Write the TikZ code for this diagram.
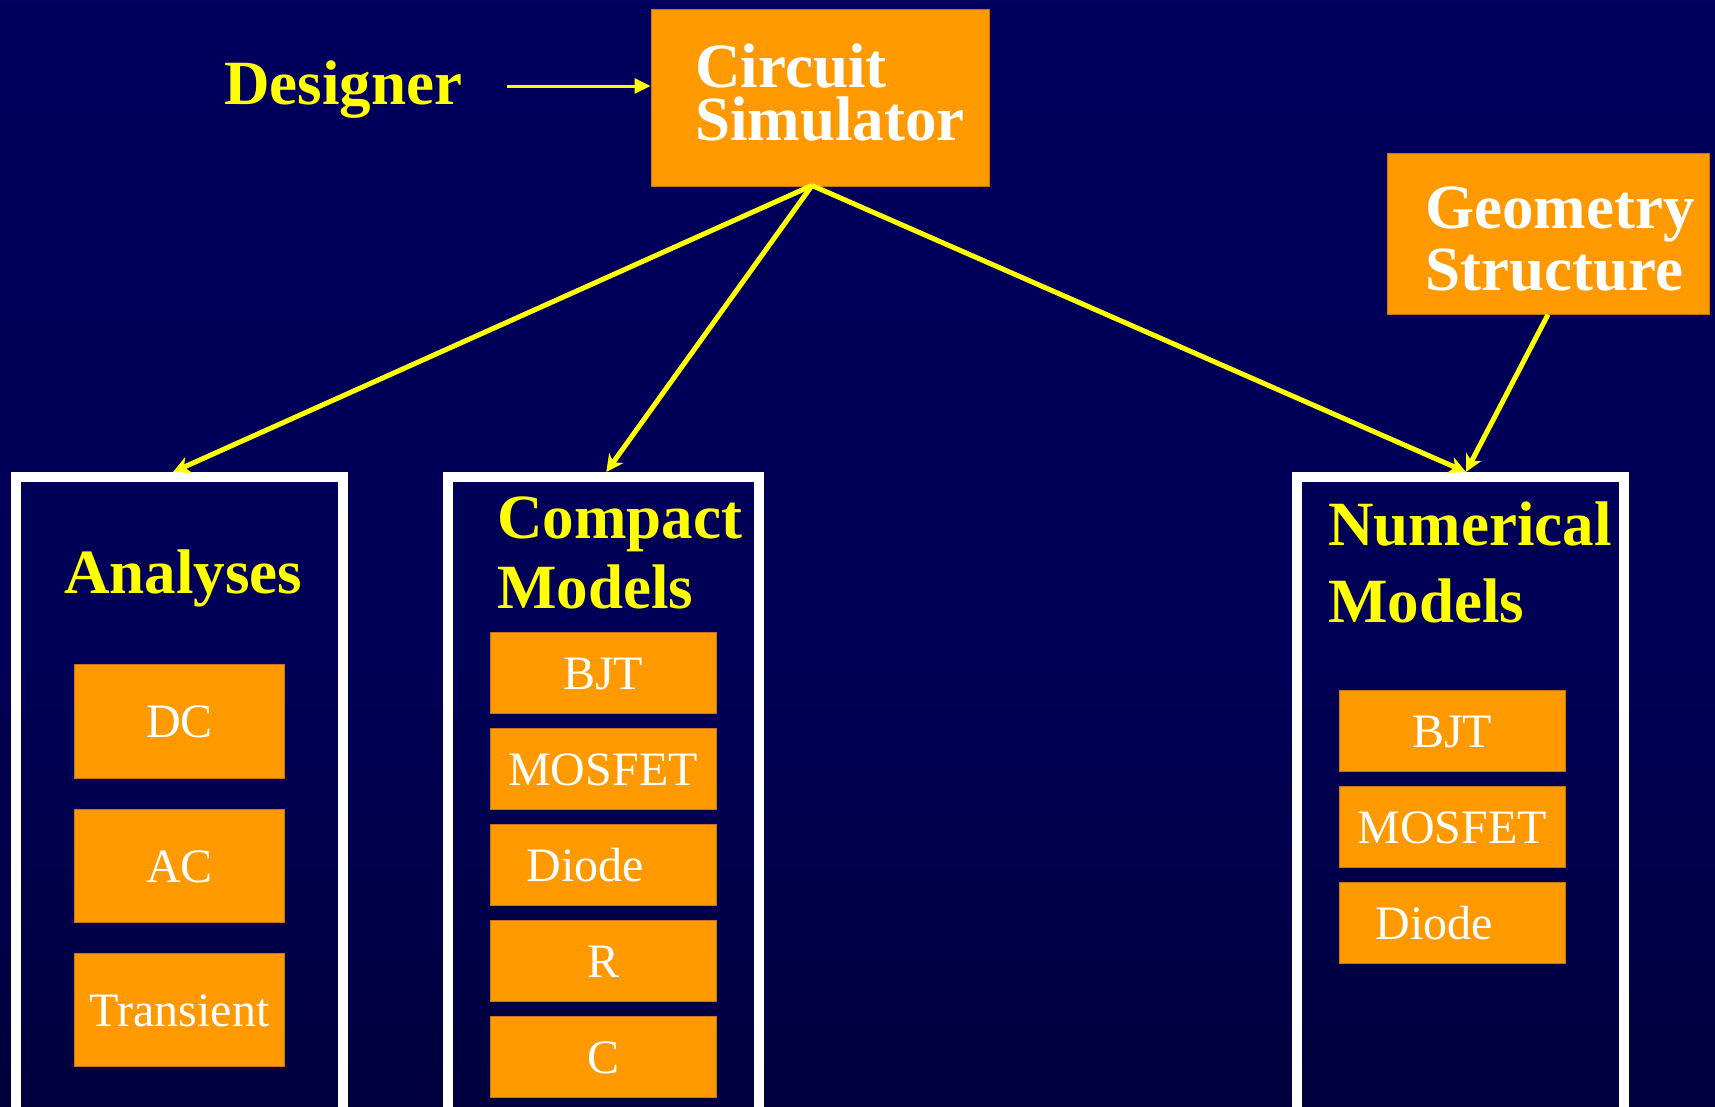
\documentclass[tikz,border=0pt]{standalone}
\usepackage{fontspec}
\setmainfont{Liberation Serif}
\usetikzlibrary{arrows.meta}
\definecolor{navytop}{RGB}{0,0,98}
\definecolor{navymid}{RGB}{0,0,86}
\definecolor{navybot}{RGB}{0,0,30}
\definecolor{boxorange}{RGB}{255,153,0}
\definecolor{boxedge}{RGB}{200,115,30}
\definecolor{ttlyellow}{RGB}{255,255,0}
\pgfdeclareverticalshading{bgshade}{100bp}{color(0bp)=(navybot); color(45bp)=(navymid); color(100bp)=(navytop)}
\begin{document}
\begin{tikzpicture}[x=1pt,y=-1pt,
  obox/.style={fill=boxorange, draw=boxedge, line width=1pt, inner sep=0pt},
  item/.style={obox, text=white, font=\fontsize{48}{48}\selectfont, text height=33pt, text depth=0pt},
  frame/.style={draw=white, line width=10pt, inner sep=0pt},
  ttl/.style={text=ttlyellow, font=\bfseries\fontsize{63}{70}\selectfont, inner sep=0pt, anchor=base west, align=left},
  wtl/.style={text=white, font=\bfseries\fontsize{63}{53}\selectfont, inner sep=0pt, anchor=base west, align=left},
  link/.style={draw=ttlyellow, line width=5pt, -{Stealth[length=17pt,width=17pt,inset=5pt]}},
  dlink/.style={draw=ttlyellow, line width=3pt, -{Triangle[length=16pt,width=15pt]}},
]
\useasboundingbox (0,0) rectangle (1715,1106);
\clip (0,0) rectangle (1715,1106);
\shade[shading=bgshade] (0,0) rectangle (1715,1106);

% top boxes
\node[obox, minimum width=338pt, minimum height=177pt] (cs) at (820,97.5) {};
\node[wtl] (cstxt) at (695,140) {Circuit\\Simulator};
\node[obox, minimum width=322pt, minimum height=161pt] (geo) at (1548,233.5) {};
\node[wtl, font=\bfseries\fontsize{63}{62}\selectfont] (geotxt) at (1425,290) {Geometry\\Structure};
\node[ttl] (des) at (224,104) {Designer};

% frames
\node[frame, minimum width=327pt, minimum height=653pt] (ana) at (179.5,803.5) {};
\node[frame, minimum width=311.5pt, minimum height=653pt] (cmp) at (603.25,803.5) {};
\node[frame, minimum width=327pt, minimum height=653pt] (num) at (1460,803.5) {};

\node[ttl] (anatxt) at (64,593) {Analyses};
\node[ttl, font=\bfseries\fontsize{63}{69.5}\selectfont] (cmptxt) at (497,608) {Compact\\Models};
\node[ttl, font=\bfseries\fontsize{63}{77}\selectfont] (numtxt) at (1328,622) {Numerical\\Models};

% analyses items
\node[item, minimum width=210pt, minimum height=114pt] (dc) at (179.6,721) {DC};
\node[item, minimum width=210pt, minimum height=113pt] (ac) at (179.6,865.5) {AC};
\node[item, minimum width=210pt, minimum height=113pt] (tr) at (179.6,1009.5) {Transient};

% compact items
\node[item, minimum width=226pt, minimum height=81.5pt] (cbjt) at (603,673) {BJT};
\node[item, minimum width=226pt, minimum height=81.5pt] (cmos) at (603,769) {MOSFET};
\node[item, minimum width=226pt, minimum height=81.5pt] (cdio) at (603,865) {Diode\hspace*{36pt}};
\node[item, minimum width=226pt, minimum height=81.5pt] (cr) at (603,961) {R};
\node[item, minimum width=226pt, minimum height=81.5pt] (cc) at (603,1057) {C};

% numerical items
\node[item, minimum width=226pt, minimum height=81pt] (nbjt) at (1452,730.5) {BJT};
\node[item, minimum width=226pt, minimum height=81pt] (nmos) at (1452,826.5) {MOSFET};
\node[item, minimum width=226pt, minimum height=81pt] (ndio) at (1452,922.5) {Diode\hspace*{36pt}};

% connectors
\coordinate (dstart) at (507,86);
\draw[dlink] (dstart) -- (dstart -| cs.west);
\coordinate (csb) at ([xshift=-8pt,yshift=1pt]cs.south);
\draw[link] (csb) -- ([xshift=-6.5pt]ana.north);
\draw[link] (csb) -- ([xshift=3pt]cmp.north);
\draw[link] (csb) -- ([xshift=6pt]num.north);
\draw[link] (geo.south) -- ([xshift=6pt]num.north);
\end{tikzpicture}
\end{document}
